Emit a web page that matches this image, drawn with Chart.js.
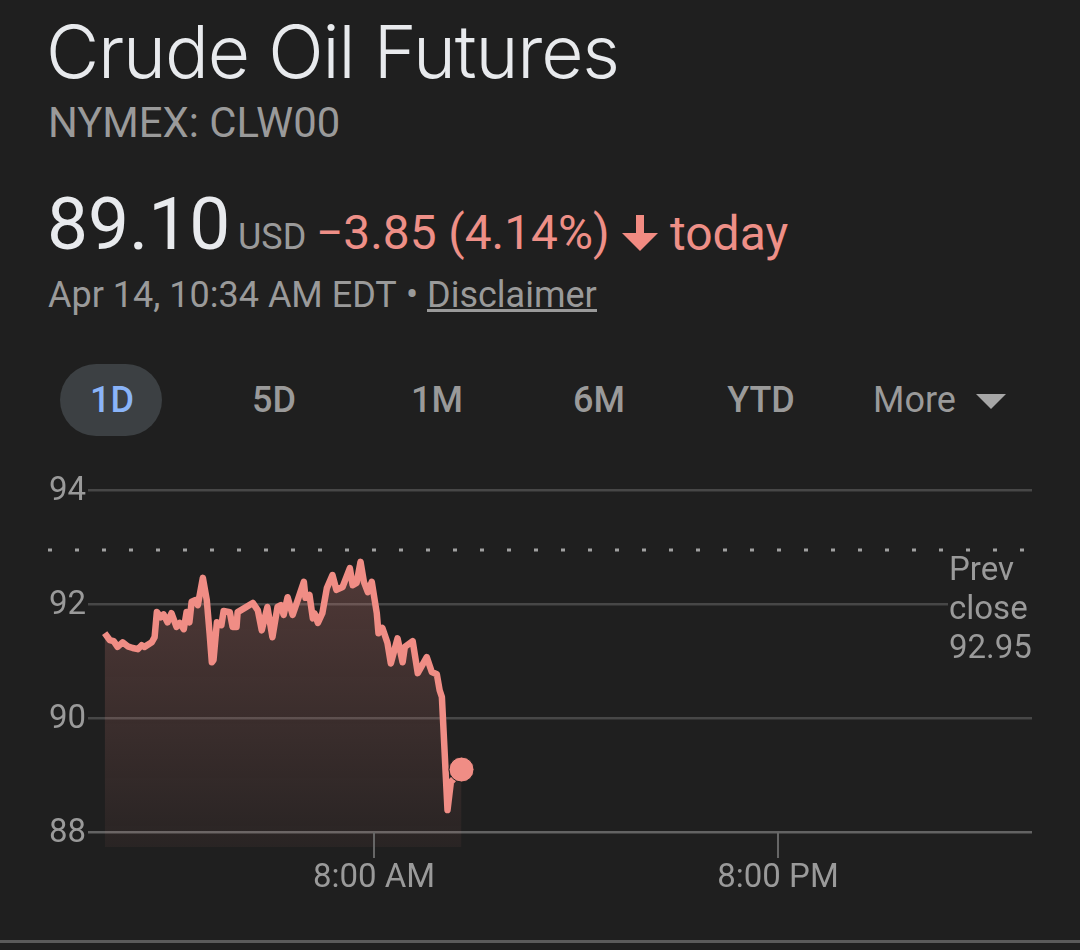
<!DOCTYPE html>
<html><head><meta charset="utf-8">
<script src="https://cdn.jsdelivr.net/npm/chart.js@4"></script>
<style>
html,body{margin:0;padding:0;background:#1f1f1f;width:1080px;height:950px;overflow:hidden}
.t{position:absolute;white-space:nowrap;line-height:1;font-family:Roboto,sans-serif;color:#9a9a9a}
canvas{position:absolute;left:0;top:460px}
</style></head><body>
<canvas id="c" width="1080" height="470"></canvas>
<div class="t" style="left:46px;top:15px;font-family:Inter;font-weight:300;font-size:73px;letter-spacing:-1.15px;color:#e8eaed">Crude Oil Futures</div>
<div class="t" style="left:48px;top:102px;font-size:41.8px">NYMEX: CLW00</div>
<div class="t" style="left:47px;top:188px;font-size:73px;color:#e8eaed">89.10</div>
<div class="t" style="left:238px;top:219px;font-size:36px">USD</div>
<div class="t" style="left:316px;top:210px;font-size:47.8px;color:#ee8f87">−3.85 (4.14%)</div>
<svg style="position:absolute;left:622px;top:215px" width="37" height="37"><path d="M14 0h8v18h14L18 36 0 18h14z" fill="#f28b82"/></svg>
<div class="t" style="left:670px;top:210px;font-size:48px;color:#ee8f87">today</div>
<div class="t" style="left:48px;top:277px;font-size:36px">Apr 14, 10:34 AM EDT</div>
<div class="t" style="left:406px;top:277px;font-size:36px">•</div>
<div class="t" style="left:427px;top:277px;font-size:36px">Disclaimer</div>
<div style="position:absolute;left:427px;top:309px;width:170px;height:3px;background:#9a9a9a"></div>
<div style="position:absolute;left:60px;top:364px;width:102px;height:72px;border-radius:36px;background:#3c4043"></div>
<div class="t" style="left:61px;width:102px;text-align:center;top:382px;font-size:36px;font-weight:500;color:#8ab4f8">1D</div>
<div class="t" style="left:223px;width:102px;text-align:center;top:382px;font-size:36px;font-weight:500">5D</div>
<div class="t" style="left:386px;width:102px;text-align:center;top:382px;font-size:36px;font-weight:500">1M</div>
<div class="t" style="left:548px;width:102px;text-align:center;top:382px;font-size:36px;font-weight:500">6M</div>
<div class="t" style="left:710px;width:102px;text-align:center;top:382px;font-size:36px;font-weight:500">YTD</div>
<div class="t" style="left:873px;top:382px;font-size:36px">More</div>
<svg style="position:absolute;left:976px;top:394px" width="30" height="15"><path d="M0 0h30L15 15z" fill="#a6a6a6"/></svg>
<div style="position:absolute;left:948px;top:553px;width:84px;height:115px;background:#1f1f1f"></div>
<div class="t" style="left:949px;top:549px;font-size:33px;line-height:39px;white-space:normal">Prev<br>close<br>92.95</div>
<div style="position:absolute;left:0;top:940px;width:1080px;height:3px;background:#5a5a5a"></div>
<script>
const yTickValues=[88,90,92,94];
const xTickValues=[480,1200];
const xTickLabels=["8:00 AM","8:00 PM"];
const prevClose=92.95;
const prevCloseTimes=[-101,1642];
const minutes=[0,9,16,23,32,41,50,59,66,71,84,89,93,100,105,112,119,128,134,141,146,151,155,162,166,175,182,187,191,194,200,208,212,223,228,235,237,249,264,273,280,290,299,308,314,319,326,335,344,355,358,365,371,374,380,388,396,406,413,424,437,442,449,456,462,469,476,485,488,495,504,510,522,531,535,549,558,574,583,592,597,601,611,617,636];
const prices=[91.49,91.37,91.35,91.25,91.33,91.26,91.23,91.21,91.28,91.25,91.33,91.42,91.86,91.77,91.82,91.68,91.84,91.60,91.67,91.56,91.86,91.68,92.04,92.07,91.98,92.46,92.07,91.49,90.98,91.02,91.68,91.63,91.88,91.86,91.60,91.60,91.86,91.93,92.02,91.89,91.54,91.95,91.42,91.95,91.98,91.81,92.12,91.81,92.07,92.39,92.11,92.16,91.75,91.84,91.67,91.84,92.28,92.51,92.25,92.30,92.63,92.33,92.37,92.74,92.39,92.21,92.39,91.84,91.49,91.58,91.32,90.96,91.40,90.98,91.25,91.35,90.79,91.07,90.81,90.77,90.49,90.37,88.39,88.88,89.10];
const priceSeries=minutes.map((m,i)=>({x:m,y:prices[i]}));
const prevSeries=prevCloseTimes.map(m=>({x:m,y:prevClose}));
const lineColor='#f08d85';
const tickMarks={id:'tickMarks',afterDatasetsDraw(chart){
  const {ctx,scales:{x,y}}=chart;ctx.save();ctx.strokeStyle='#666';ctx.lineWidth=2;
  xTickValues.forEach(v=>{const p=x.getPixelForValue(v);ctx.beginPath();ctx.moveTo(p,y.getPixelForValue(88));ctx.lineTo(p,y.bottom+11);ctx.stroke();});
  ctx.restore();
}};
new Chart(document.getElementById('c'),{
  type:'line',
  data:{datasets:[
    {label:'Price',data:priceSeries,borderColor:lineColor,borderWidth:6.5,tension:0,fill:'start',
     borderJoinStyle:'round',
     backgroundColor(ctx){const a=ctx.chart.chartArea;if(!a)return 'transparent';
       const g=ctx.chart.ctx.createLinearGradient(0,a.top+70,0,a.bottom);
       g.addColorStop(0,'rgba(240,141,133,0.24)');g.addColorStop(1,'rgba(240,141,133,0.05)');return g;},
     pointRadius:c=>c.dataIndex===minutes.length-1?12.5:0,
     pointBackgroundColor:lineColor,pointBorderColor:'#1f1f1f',pointBorderWidth:1,pointHoverRadius:12.5,clip:false},
    {label:'Prev close',data:prevSeries,borderColor:'#a0a0a0',borderWidth:3,borderDash:[4,23],pointRadius:0,fill:false,clip:false}
  ]},
  options:{responsive:false,animation:false,
    layout:{padding:{left:49,right:48,top:30,bottom:0}},
    plugins:{legend:{display:false},tooltip:{enabled:false}},
    scales:{
      x:{type:'linear',min:-29.7,max:1652.7,
        afterBuildTicks(s){s.ticks=xTickValues.map(v=>({value:v}));},
        grid:{display:false},border:{display:false},
        ticks:{autoSkip:false,maxRotation:0,padding:4,color:'#9a9a9a',font:{family:'Roboto',size:33},
          callback:v=>xTickLabels[xTickValues.indexOf(v)]},
        afterFit(s){s.height=83;}
      },
      y:{min:87.742,max:94,
        afterBuildTicks(s){s.ticks=yTickValues.map(v=>({value:v}));},
        afterFit(s){s.width=39;},
        grid:{drawTicks:false,lineWidth:2.5,color:c=>c.tick&&c.tick.value===88?'#636363':'#474747'},
        border:{display:false},
        ticks:{crossAlign:'far',padding:0,labelOffset:1.5,color:'#9a9a9a',font:{family:'Roboto',size:33},callback:v=>String(v)}
      }
    }
  },
  plugins:[tickMarks]
});
</script>
</body></html>
